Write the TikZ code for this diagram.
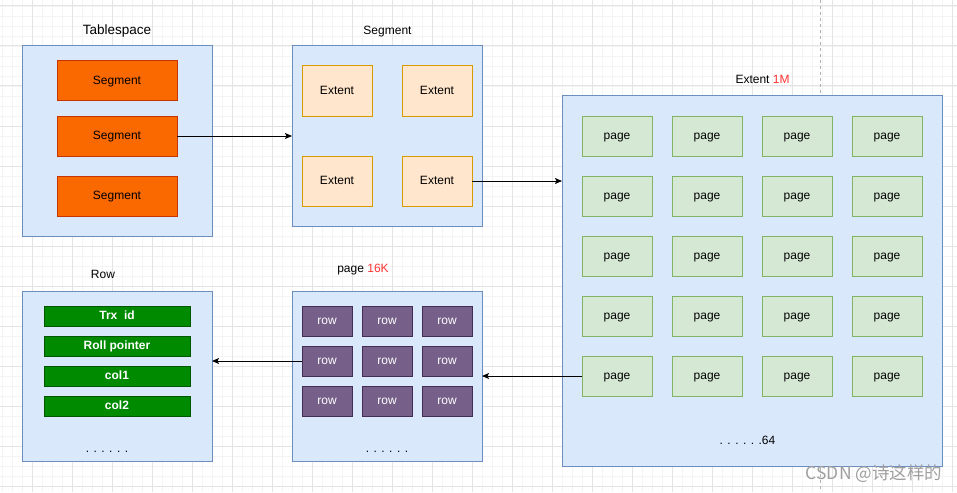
\documentclass[tikz,border=0pt]{standalone}
\usepackage{fontspec}
\setmainfont{Liberation Sans}
\newfontfamily\cjkfont{Noto Sans CJK SC}
\usetikzlibrary{arrows.meta}
\definecolor{outerfill}{HTML}{DAE8FC}
\definecolor{outerline}{HTML}{6C8EBF}
\definecolor{segfill}{HTML}{FA6800}
\definecolor{segline}{HTML}{C73500}
\definecolor{extfill}{HTML}{FFE6CC}
\definecolor{extline}{HTML}{D79B00}
\definecolor{pagefill}{HTML}{D5E8D4}
\definecolor{pageline}{HTML}{82B366}
\definecolor{rowfill}{HTML}{76608A}
\definecolor{rowline}{HTML}{432D57}
\definecolor{colfill}{HTML}{008A00}
\definecolor{colline}{HTML}{005700}
\definecolor{redtxt}{HTML}{FF3333}
\definecolor{gridmajor}{HTML}{E4E4E4}
\definecolor{gridminor}{HTML}{F4F4F4}
\begin{document}
\begin{tikzpicture}[x=1pt,y=-1pt,
  every node/.style={inner sep=0pt,outer sep=0pt,font=\fontsize{12}{14}\selectfont,text height=8pt,text depth=1pt},
  outerbox/.style={draw=outerline,fill=outerfill,line width=1pt},
  segbox/.style={draw=segline,fill=segfill,line width=1pt,minimum width=120pt,minimum height=40pt},
  extbox/.style={draw=extline,fill=extfill,line width=1pt,minimum width=70pt,minimum height=50pt},
  pagebox/.style={draw=pageline,fill=pagefill,line width=1pt,minimum width=70pt,minimum height=40pt},
  rowbox/.style={draw=rowline,fill=rowfill,line width=1pt,minimum width=50pt,minimum height=30pt,text=white},
  colbox/.style={draw=colline,fill=colfill,line width=1pt,minimum width=146pt,minimum height=20pt,text=white,font=\fontsize{12}{14}\selectfont\bfseries},
  title/.style={font=\fontsize{12}{14}\selectfont},
  conn/.style={line width=1pt,-{Stealth[length=7pt,width=6pt,inset=1.5pt]}}]
\useasboundingbox (0,0) rectangle (957,492);
\fill[white] (0,0) rectangle (957,492);
% grid
\foreach \i in {0,...,96} {\draw[gridminor,line width=0.8pt] ({2.5+10*\i},0) -- ({2.5+10*\i},492);}
\foreach \j in {0,...,49} {\draw[gridminor,line width=0.8pt] (0,{6+10*\j}) -- (957,{6+10*\j});}
\foreach \i in {0,...,23} {\draw[gridmajor,line width=1pt] ({32.5+40*\i},0) -- ({32.5+40*\i},492);}
\foreach \j in {0,...,12} {\draw[gridmajor,line width=1pt] (0,{6+40*\j}) -- (957,{6+40*\j});}
\draw[gray!60,line width=0.8pt,dash pattern=on 3pt off 3pt] (820,0) -- (820,492);

% Tablespace
\node[title,font=\fontsize{13.5}{15}\selectfont] (tstitle) at (117,31) {Tablespace};
\node[outerbox,minimum width=190pt,minimum height=190pt] (ts) at (117,141) {};
\node[segbox] (seg1) at (117,81) {Segment};
\node[segbox] (seg2) at (117,136) {Segment};
\node[segbox] (seg3) at (117,196) {Segment};

% Segment
\node[title] (segtitle) at (387.5,31) {Segment};
\node[outerbox,minimum width=190pt,minimum height=180pt] (seg) at (387,136) {};
\node[extbox] (ext1) at (337,91) {Extent};
\node[extbox] (ext2) at (437,91) {Extent};
\node[extbox] (ext3) at (337,181) {Extent};
\node[extbox] (ext4) at (437,181) {Extent};

% Extent
\node[title] (exttitle) at (762.5,80) {Extent \textcolor{redtxt}{1M}};
\node[outerbox,minimum width=380pt,minimum height=370pt] (ext) at (752,281) {};
\foreach \r in {1,...,5} {
  \foreach \c in {1,...,4} {
    \node[pagebox] (p\r\c) at ({617+90*(\c-1)},{136+60*(\r-1)}) {page};
  }
}
\node (extdots) at (747.5,441) {. . . . . .64};

% page
\node[title] (pagetitle) at (363,269) {page \textcolor{redtxt}{16K}};
\node[outerbox,minimum width=190pt,minimum height=170pt] (pg) at (387,376) {};
\foreach \r in {1,2,3} {
  \foreach \c in {1,2,3} {
    \node[rowbox] (r\r\c) at ({327+60*(\c-1)},{321+40*(\r-1)}) {row};
  }
}
\node (pgdots) at (387,449) {. . . . . .};

% Row
\node[title] (rowtitle) at (103,275) {Row};
\node[outerbox,minimum width=190pt,minimum height=170pt] (row) at (117,376) {};
\node[colbox] (c1) at (117,316) {Trx\ \ id};
\node[colbox] (c2) at (117,346) {Roll pointer};
\node[colbox] (c3) at (117,376) {col1};
\node[colbox] (c4) at (117,406) {col2};
\node (rowdots) at (107,449) {. . . . . .};

% connectors
\draw[conn] (seg2.east) -- (seg.west |- seg2.east);
\draw[conn] (ext4.east) -- (ext.west |- ext4.east);
\draw[conn] (p51.west) -- (pg.east |- p51.west);
\draw[conn] (r21.west) -- (row.east |- r21.west);

% watermark
\node[text=gray!75,font=\cjkfont\fontsize{17.5}{19}\selectfont,text height=12pt,text depth=2pt] (wm) at (874,474) {CSDN @诗这样的};
\end{tikzpicture}
\end{document}
